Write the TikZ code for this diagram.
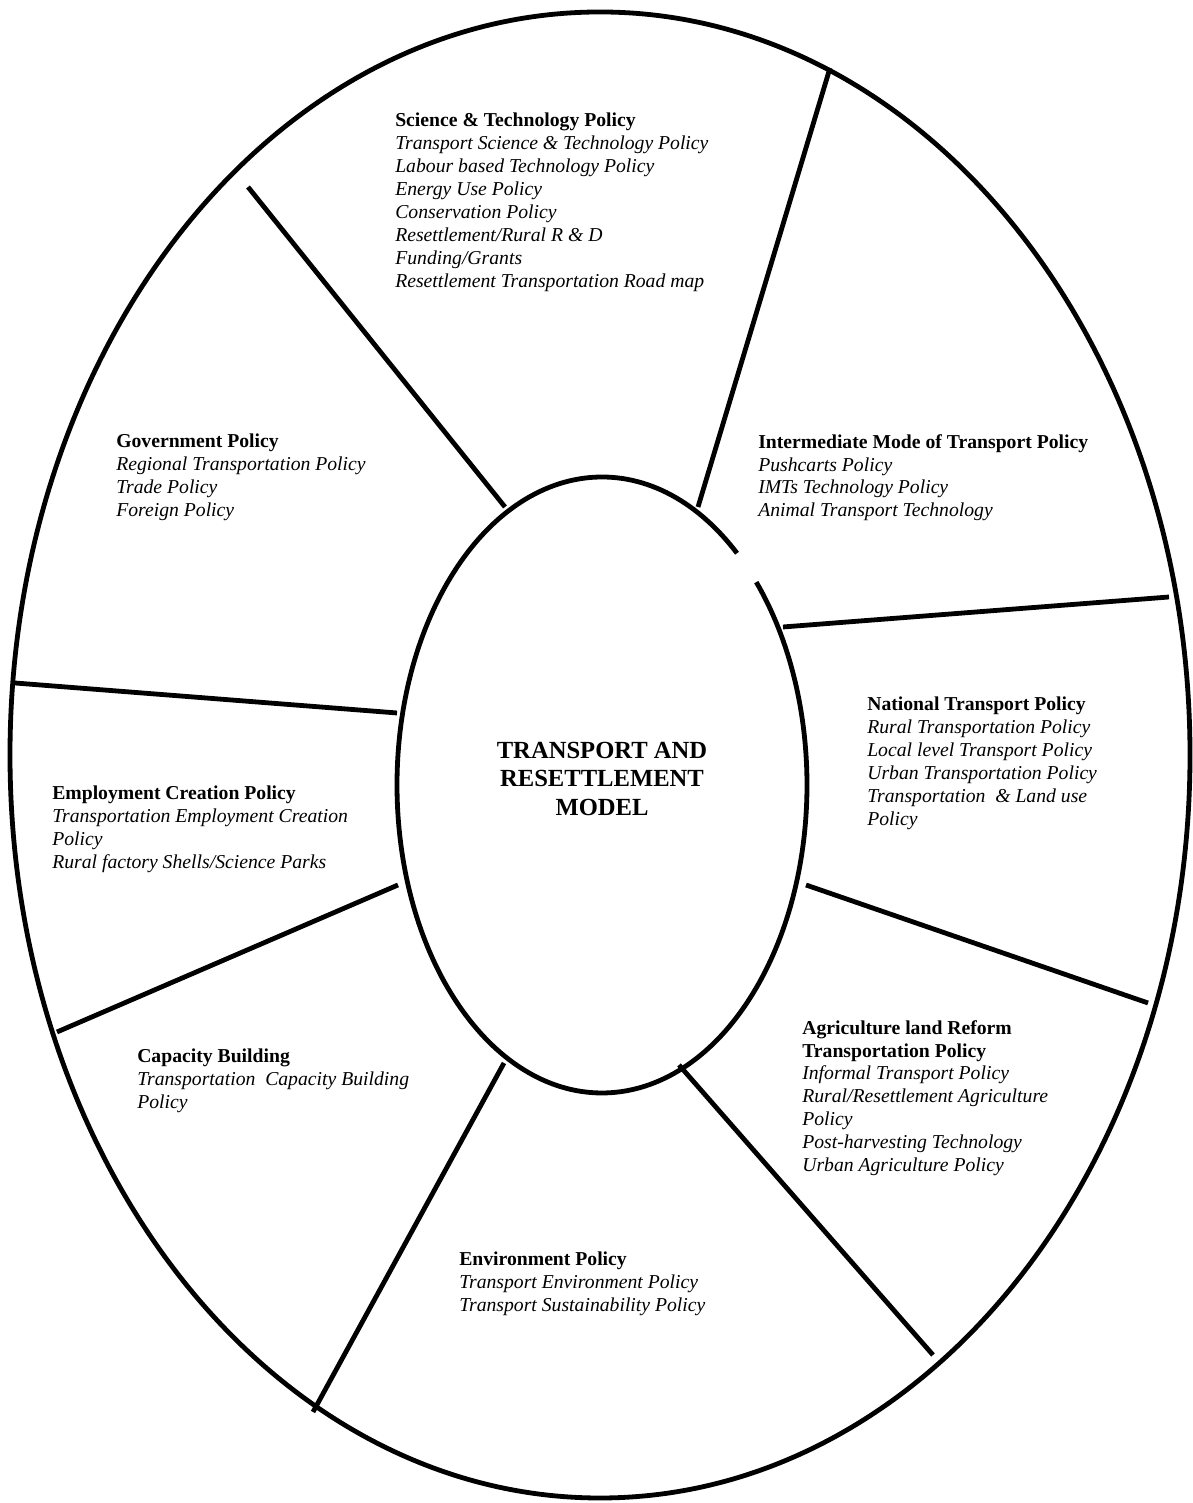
\documentclass[tikz,border=0pt]{standalone}
\usepackage{fontspec}
\setmainfont{Liberation Serif}
\usepackage{tikz}
\usetikzlibrary{positioning}

\begin{document}
\begin{tikzpicture}[
  x=0.025cm,y=0.025cm,
  rim/.style={draw=black,line width=0.12cm},
  spoke/.style={draw=black,line width=0.12cm},
  pol/.style={anchor=north west,inner sep=0pt,align=left,font=\fontsize{14}{16.3}\selectfont\itshape},
  hub/.style={anchor=north,inner sep=0pt,align=center,font=\fontsize{17.5}{20.2}\selectfont\bfseries}
]
  \useasboundingbox (0,0) rectangle (1192,1503);
  % outer ring and hub (hub left open at upper right)
  \draw[rim] (600,748) ellipse [x radius=590, y radius=743];
  \draw[rim] (602,718) ++(48.8:205 and 308) arc[start angle=48.8, end angle=401.2, x radius=205, y radius=308];
  % dividers
  \draw[spoke] (248,1316) -- (505,996);
  \draw[spoke] (830,1435) -- (698,996);
  \draw[spoke] (783,876) -- (1169,906);
  \draw[spoke] (806,618) -- (1148,500);
  \draw[spoke] (679,438) -- (933,148);
  \draw[spoke] (504,440) -- (313,91);
  \draw[spoke] (398,618) -- (57,471);
  \draw[spoke] (397,790) -- (15,820);
  % centre
  \node[hub] (model) at (602,761) {TRANSPORT AND\\RESETTLEMENT\\MODEL};
  % sectors
  \node[pol] (sci) at (395,1390) {\textbf{\upshape Science \& Technology Policy}\\Transport Science \& Technology Policy\\Labour based Technology Policy\\Energy Use Policy\\Conservation Policy\\Resettlement/Rural R \& D\\Funding/Grants\\Resettlement Transportation Road map};
  \node[pol] (gov) at (116,1069) {\textbf{\upshape Government Policy}\\Regional Transportation Policy\\Trade Policy\\Foreign Policy};
  \node[pol] (imt) at (758,1069) {\textbf{\upshape Intermediate Mode of Transport Policy}\\Pushcarts Policy\\IMTs Technology Policy\\Animal Transport Technology};
  \node[pol] (nat) at (867,806) {\textbf{\upshape National Transport Policy}\\Rural Transportation Policy\\Local level Transport Policy\\Urban Transportation Policy\\Transportation\ \ \& Land use\\Policy};
  \node[pol] (emp) at (52,717) {\textbf{\upshape Employment Creation Policy}\\Transportation Employment Creation\\Policy\\Rural factory Shells/Science Parks};
  \node[pol] (agr) at (802,483) {\textbf{\upshape Agriculture land Reform}\\\textbf{\upshape Transportation Policy}\\Informal Transport Policy\\Rural/Resettlement Agriculture\\Policy\\Post-harvesting Technology\\Urban Agriculture Policy};
  \node[pol] (cap) at (137,454) {\textbf{\upshape Capacity Building}\\Transportation\ \ Capacity Building\\Policy};
  \node[pol] (env) at (459,251) {\textbf{\upshape Environment Policy}\\Transport Environment Policy\\Transport Sustainability Policy};
\end{tikzpicture}
\end{document}
